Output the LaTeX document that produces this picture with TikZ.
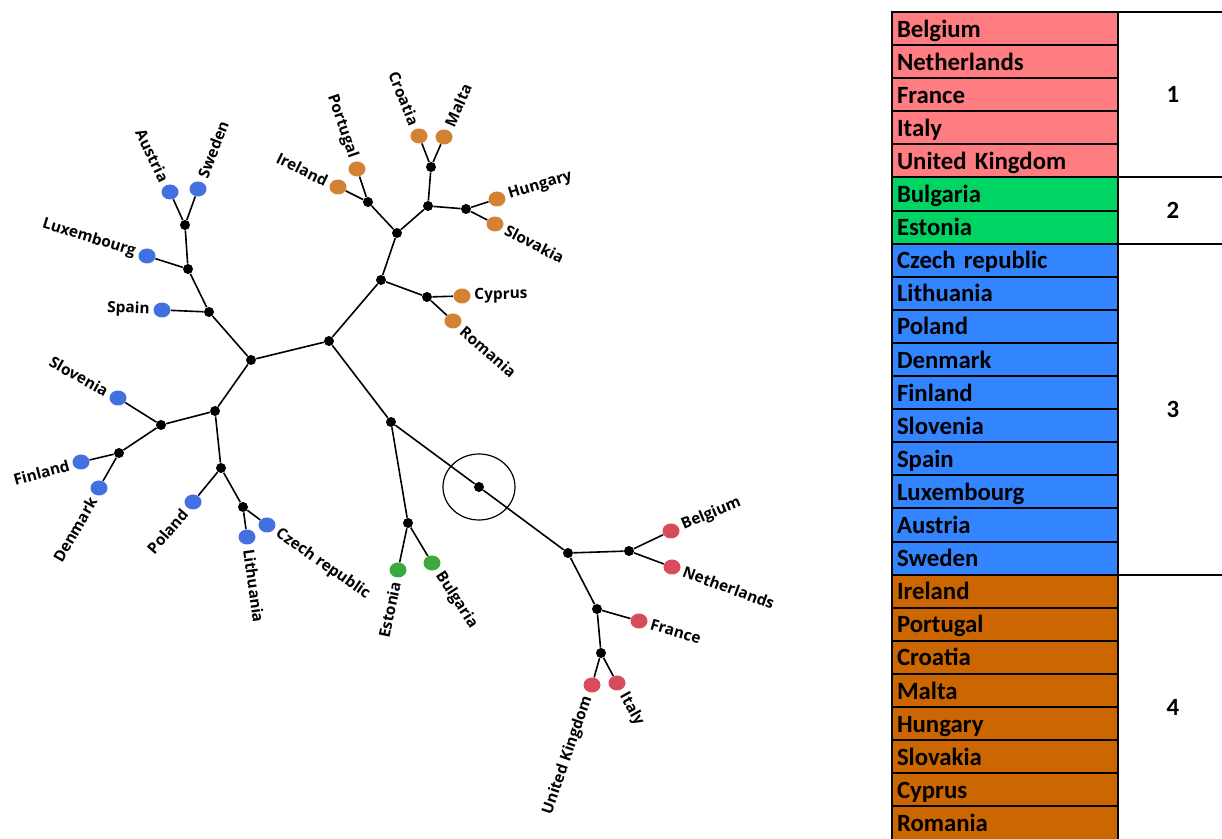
\documentclass[tikz,border=0pt]{standalone}
\usepackage{fontspec}
\setmainfont{Carlito}
\newfontfamily\treefont{Open Sans}
\usetikzlibrary{shapes.geometric}

\definecolor{cellred}{RGB}{255,124,128}
\definecolor{cellgreen}{RGB}{0,212,98}
\definecolor{cellblue}{RGB}{51,133,255}
\definecolor{cellorange}{RGB}{204,102,0}
\definecolor{dotblue}{RGB}{66,112,224}
\definecolor{dotorange}{RGB}{210,130,50}
\definecolor{dotred}{RGB}{215,75,92}
\definecolor{dotgreen}{RGB}{58,170,62}

\tikzset{
	split/.style={circle, fill=black, inner sep=0pt, minimum size=5pt},
	leaf/.style={ellipse, fill=#1, inner sep=0pt, minimum width=8.5pt, minimum height=7.5pt},
	branch/.style={line width=0.8pt},
	country/.style={font=\treefont\bfseries\fontsize{7.7}{9}\selectfont, inner xsep=6pt, inner ysep=0pt},
	cell/.style={draw, line width=1pt, fill=#1, minimum height=16.55pt, text width=108pt,
		text height=8.5pt, text depth=0pt, inner xsep=2.5pt, align=left,
		font=\bfseries\fontsize{12.4}{14}\selectfont},
	group/.style={draw, line width=1pt, minimum width=55pt, font=\bfseries\fontsize{12.4}{14}\selectfont}
}

\begin{document}
\begin{tikzpicture}[x=0.5pt, y=-0.5pt]
	\useasboundingbox (0,0) rectangle (1222,839);

	% inner splits of the tree
	\node[split] (n1) at (329,341) {};
	\node[split] (n2) at (251,360) {};
	\node[split] (n3) at (209,312) {};
	\node[split] (n4) at (188,269) {};
	\node[split] (n5) at (185,225) {};
	\node[split] (n6) at (215,411) {};
	\node[split] (n7) at (161,425) {};
	\node[split] (n8) at (119,453) {};
	\node[split] (n9) at (221,468) {};
	\node[split] (n10) at (243,507) {};
	\node[split] (n11) at (381,280) {};
	\node[split] (n12) at (397,233) {};
	\node[split] (n13) at (368,202) {};
	\node[split] (n14) at (428,206) {};
	\node[split] (n15) at (431,167) {};
	\node[split] (n16) at (466,209) {};
	\node[split] (n17) at (427,297) {};
	\node[split] (n18) at (391,422) {};
	\node[split] (n19) at (408,523) {};
	\node[split] (n20) at (479,487) {};
	\node[split] (n21) at (568,553) {};
	\node[split] (n22) at (629,551) {};
	\node[split] (n23) at (597,609) {};
	\node[split] (n24) at (601,653) {};

	\node[draw, ellipse, line width=0.6pt, minimum width=36pt, minimum height=33pt] (ring) at (n20) {};

	% leaves: name / x / y / colour / angle / side / text
	\foreach \id/\x/\y/\col/\ang/\side/\txt in {
		austria/170/192/dotblue/-64/east/Austria,
		sweden/198/189/dotblue/69/west/Sweden,
		luxembourg/147/256/dotblue/-17/east/Luxembourg,
		spain/162/310/dotblue/-2/east/Spain,
		slovenia/118/398/dotblue/-29/east/Slovenia,
		finland/81/462/dotblue/15/east/Finland,
		denmark/99/488/dotblue/60/east/Denmark,
		poland/193/502/dotblue/49/east/Poland,
		lithuania/247/537/dotblue/-82/west/Lithuania,
		czech/267/525/dotblue/-35/west/Czech republic,
		estonia/398/570/dotgreen/78/east/Estonia,
		bulgaria/432/563/dotgreen/-57/west/Bulgaria,
		belgium/671/531/dotred/23/west/Belgium,
		netherlands/672/567/dotred/-20/west/Netherlands,
		france/639/621/dotred/-16/west/France,
		uk/592/685/dotred/71/east/United Kingdom,
		italy/617/683/dotred/-61/west/Italy,
		cyprus/462/296/dotorange/1/west/Cyprus,
		romania/453/321/dotorange/-41/west/Romania,
		hungary/497/199/dotorange/17/west/Hungary,
		slovakia/495/224/dotorange/-27/west/Slovakia,
		croatia/419/136/dotorange/-68/east/Croatia,
		malta/444/137/dotorange/66/west/Malta,
		portugal/357/169/dotorange/-71/east/Portugal,
		ireland/338/187/dotorange/-26/east/Ireland}
	{
		\node[leaf=\col] (\id) at (\x,\y) {};
		\node[country, rotate=\ang, anchor=\side] (l-\id) at (\id) {\txt};
	}

	% branches
	\foreach \a/\b in {n1/n2, n1/n11, n1/n18, n2/n3, n2/n6, n3/spain, n3/n4, n4/luxembourg,
		n4/n5, n5/austria, n5/sweden, n6/n7, n6/n9, n7/slovenia, n7/n8, n8/finland,
		n8/denmark, n9/poland, n9/n10, n10/czech, n10/lithuania, n11/n12, n11/n17,
		n17/cyprus, n17/romania, n12/n13, n12/n14, n13/ireland, n13/portugal, n14/n15,
		n15/croatia, n15/malta, n14/n16, n16/hungary, n16/slovakia, n18/n19,
		n19/estonia, n19/bulgaria, n18/n20, n20/n21, n21/n22, n22/belgium,
		n22/netherlands, n21/n23, n23/france, n23/n24, n24/uk, n24/italy}
		\draw[branch] (\a) -- (\b);

	% table of clusters
	\foreach \txt/\col [count=\i from 0] in {Belgium/cellred, Netherlands/cellred,
		France/cellred, Italy/cellred, United Kingdom/cellred, Bulgaria/cellgreen,
		Estonia/cellgreen, Czech republic/cellblue, Lithuania/cellblue, Poland/cellblue,
		Denmark/cellblue, Finland/cellblue, Slovenia/cellblue, Spain/cellblue,
		Luxembourg/cellblue, Austria/cellblue, Sweden/cellblue, Ireland/cellorange,
		Portugal/cellorange, Croatia/cellorange, Malta/cellorange, Hungary/cellorange,
		Slovakia/cellorange, Cyprus/cellorange, Romania/cellorange}
		\node[cell=\col] (row\i) at (1005, {28.55+33.1*\i}) {\txt};

	\node[group, minimum height=82.75pt] (g1) at (1173,94.75) {1};
	\node[group, minimum height=33.1pt] (g2) at (1173,210.6) {2};
	\node[group, minimum height=165.5pt] (g3) at (1173,409.2) {3};
	\node[group, minimum height=132.4pt] (g4) at (1173,707.1) {4};
\end{tikzpicture}
\end{document}
